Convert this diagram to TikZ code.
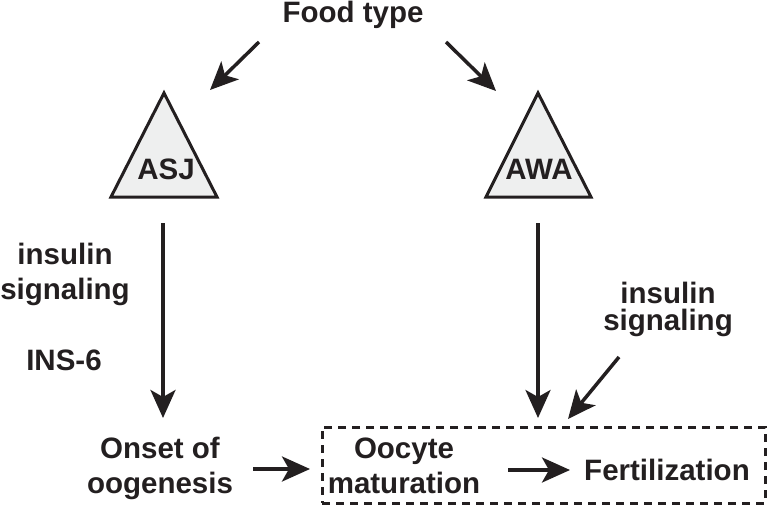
\documentclass[tikz,border=0pt]{standalone}
\usepackage{fontspec}
\setmainfont{Liberation Sans}
\usetikzlibrary{arrows.meta}
\definecolor{ink}{RGB}{35,31,32}
\definecolor{trifill}{RGB}{238,239,239}
\begin{document}
\begin{tikzpicture}[x=1pt,y=-1pt,
  lbl/.style={text=ink,font=\fontsize{29.5}{35}\selectfont\bfseries,align=center,inner sep=0pt},
  arr/.style={draw=ink,line width=3.5pt,-{Stealth[length=28pt,width=25pt,inset=7pt]}},
  tri/.style={draw=ink,fill=trifill,line width=3pt,line join=miter},
  dbox/.style={draw=ink,line width=3pt,dash pattern=on 8pt off 6pt}]
\useasboundingbox (0,0) rectangle (767,505);
% texts
\node[lbl] (food) at (353,15) {Food type};
\draw[tri] (111,197) -- (164,93) -- (217,197) -- cycle;
\draw[tri] (486,197) -- (538,93) -- (591,197) -- cycle;
\node[lbl] (asj) at (166,169) {ASJ};
\node[lbl] (awa) at (539,169) {AWA};
\node[lbl] (insL) at (65,274) {insulin\\signaling};
\node[lbl] (ins6) at (64,360) {INS-6};
\node[lbl,font=\fontsize{29.5}{27}\selectfont\bfseries] (insR) at (668,309) {insulin\\signaling};
\node[lbl] (onset) at (160,468) {Onset of\\oogenesis};
\node[lbl] (oocyte) at (404,466) {Oocyte\\maturation};
\node[lbl] (fert) at (667,470) {Fertilization};
\node[dbox,minimum width=443pt,minimum height=76pt,inner sep=0pt] (box) at (543.5,465) {};
% connector ends
\coordinate (a1s) at (259,42);  \coordinate (a1e) at (210,90);
\coordinate (a2s) at (446,42);  \coordinate (a2e) at (496,91);
\coordinate (a3s) at (163,223); \coordinate (a3e) at (163,418);
\coordinate (a4s) at (538,223); \coordinate (a4e) at (538,418);
\coordinate (a5s) at (619,357); \coordinate (a5e) at (568,419);
\coordinate (a6s) at (253,469); \coordinate (a6e) at (310,469);
\coordinate (a7s) at (508,470); \coordinate (a7e) at (570,470);
\draw[arr] (a1s) -- (a1e);
\draw[arr] (a2s) -- (a2e);
\draw[arr] (a3s) -- (a3e);
\draw[arr] (a4s) -- (a4e);
\draw[arr] (a5s) -- (a5e);
\draw[arr] (a6s) -- (a6e);
\draw[arr] (a7s) -- (a7e);
\end{tikzpicture}
\end{document}
